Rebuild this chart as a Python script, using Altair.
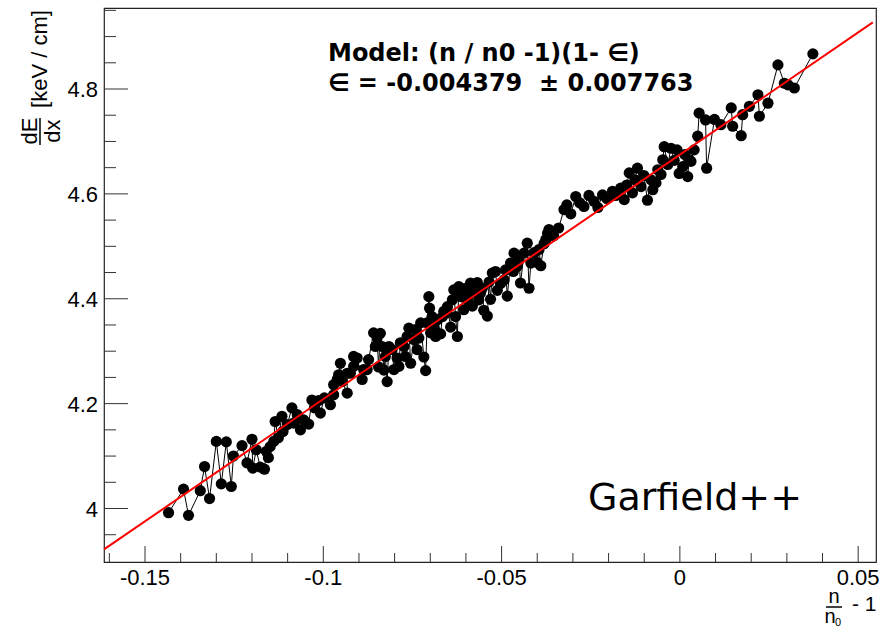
import altair as alt
import pandas as pd

# ---------------- data ----------------
x_vals = [
    -0.1434, -0.1392, -0.1378, -0.1345, -0.1333, -0.1319, -0.1300, -0.1286, -0.1272, -0.1258,
    -0.1252, -0.1228, -0.1214, -0.1200, -0.1198, -0.1177, -0.1165, -0.1160, -0.1149, -0.1139,
    -0.1135, -0.1116, -0.1113, -0.1088, -0.1083, -0.1055, -0.1041, -0.1032, -0.1013, -0.1008,
    -0.0980, -0.0971, -0.0961, -0.0952, -0.0947, -0.0933, -0.0924, -0.0915, -0.0905, -0.0891,
    -0.0877, -0.0859, -0.0854, -0.0845, -0.0840, -0.0830, -0.0821, -0.0816, -0.0802, -0.0793,
    -0.0784, -0.0770, -0.0760, -0.0755, -0.0746, -0.0737, -0.0727, -0.0718, -0.0713, -0.0704,
    -0.0702, -0.0699, -0.0690, -0.0680, -0.0671, -0.0662, -0.0652, -0.0643, -0.0634, -0.0629,
    -0.0624, -0.0620, -0.0606, -0.0596, -0.0587, -0.0582, -0.0568, -0.0559, -0.0550, -0.0540,
    -0.0535, -0.0531, -0.0517, -0.0512, -0.0503, -0.0484, -0.0475, -0.0465, -0.0456, -0.0447,
    -0.0428, -0.0423, -0.0409, -0.0400, -0.0390, -0.0381, -0.0371, -0.0367, -0.0354, -0.0340,
    -0.0325, -0.0292, -0.0269, -0.0241, -0.0217, -0.0189, -0.0166, -0.0156, -0.0142, -0.0133,
    -0.0119, -0.0109, -0.0091, -0.0081, -0.0067, -0.0062, -0.0048, -0.0044, -0.0025, -0.0016,
    -0.0002, 0.0008, 0.0022, 0.0026, 0.0031, 0.0050, 0.0054, 0.0072, 0.0075, 0.0097,
    0.0115, 0.0144, 0.0148, 0.0172, 0.0176, 0.0195, 0.0219, 0.0223, 0.0247, 0.0275,
    0.0293, 0.0303, 0.0321, 0.0373,
]
y_vals = [
    3.992, 4.037, 3.987, 4.034, 4.080, 4.019, 4.128, 4.047, 4.127, 4.042,
    4.100, 4.120, 4.087, 4.132, 4.077, 4.079, 4.075, 4.109, 4.118, 4.128,
    4.166, 4.176, 4.147, 4.192, 4.163, 4.169, 4.161, 4.207, 4.206, 4.182,
    4.198, 4.217, 4.246, 4.277, 4.242, 4.220, 4.258, 4.271, 4.287, 4.246,
    4.265, 4.335, 4.309, 4.270, 4.334, 4.264, 4.242, 4.309, 4.265, 4.287,
    4.316, 4.290, 4.344, 4.277, 4.322, 4.303, 4.354, 4.289, 4.263, 4.404,
    4.382, 4.335, 4.347, 4.360, 4.333, 4.376, 4.385, 4.346, 4.417, 4.366,
    4.328, 4.423, 4.379, 4.398, 4.430, 4.386, 4.431, 4.411, 4.378, 4.367,
    4.432, 4.399, 4.452, 4.416, 4.429, 4.405, 4.468, 4.487, 4.462, 4.430,
    4.506, 4.420, 4.488, 4.469, 4.463, 4.505, 4.525, 4.532, 4.520, 4.535,
    4.570, 4.595, 4.576, 4.586, 4.598, 4.605, 4.611, 4.589, 4.640, 4.602,
    4.649, 4.614, 4.588, 4.627, 4.621, 4.646, 4.665, 4.690, 4.687, 4.664,
    4.639, 4.652, 4.633, 4.665, 4.662, 4.710, 4.754, 4.741, 4.649, 4.742,
    4.732, 4.764, 4.729, 4.711, 4.751, 4.767, 4.789, 4.748, 4.773, 4.846,
    4.811, 4.808, 4.802, 4.867,
]
# further points read from the denser parts of the cloud
x_more = [
    -0.1188, -0.1154, -0.1126, -0.1101, -0.1073, -0.1064, -0.1025, -0.0997,
    -0.0971, -0.0957, -0.0933, -0.0915, -0.0887, -0.0873, -0.0849, -0.0835,
    -0.0826, -0.0807, -0.0788, -0.0774, -0.0765, -0.0741, -0.0732, -0.0709,
    -0.0695, -0.0685, -0.0666, -0.0654, -0.0638, -0.0615, -0.0601, -0.0592,
    -0.0578, -0.0564, -0.0554, -0.0526, -0.0493, -0.0489, -0.0467, -0.0451,
    -0.0437, -0.0418, -0.0395, -0.0376,
    -0.0317, -0.0306, -0.0281, -0.0255, -0.0230, -0.0205, -0.0180, -0.0149,
    -0.0126, -0.0101, -0.0076, -0.0053, -0.0034, -0.0008, 0.0014, 0.0040,
]
y_more = [
    4.112, 4.097, 4.135, 4.160, 4.179, 4.150, 4.192, 4.211,
    4.236, 4.255, 4.258, 4.290, 4.265, 4.284, 4.325, 4.309,
    4.290, 4.303, 4.271, 4.309, 4.328, 4.341, 4.325, 4.354,
    4.366, 4.328, 4.366, 4.373, 4.398, 4.404, 4.420, 4.411,
    4.414, 4.398, 4.420, 4.449, 4.436, 4.455, 4.452, 4.474,
    4.487, 4.468, 4.494, 4.513,
    4.579, 4.562, 4.583, 4.597, 4.574, 4.591, 4.597, 4.617,
    4.627, 4.635, 4.608, 4.637, 4.656, 4.684, 4.675, 4.684,
]
fit_x = [-0.1615, 0.0541]
fit_y = [3.922, 4.927]

x_major = [-0.15, -0.1, -0.05, 0.0, 0.05]
x_major_labels = ["-0.15", "-0.1", "-0.05", "0", "0.05"]
x_minor = [-0.16, -0.14, -0.13, -0.12, -0.11, -0.09, -0.08, -0.07, -0.06,
           -0.04, -0.03, -0.02, -0.01, 0.01, 0.02, 0.03, 0.04]
y_major = [4.0, 4.2, 4.4, 4.6, 4.8]
y_major_labels = ["4", "4.2", "4.4", "4.6", "4.8"]
y_minor = [3.95, 4.05, 4.1, 4.15, 4.25, 4.3, 4.35, 4.45, 4.5, 4.55,
           4.65, 4.7, 4.75, 4.85, 4.9, 4.95]

annotation_lines = ["Model: (n / n0 -1)(1- \u2208)", "\u2208 = -0.004379\u00a0 \u00b1 0.007763"]
watermark = ["Garfield++"]
ytitle_top = ["dE"]
ytitle_bottom = ["dx"]
ytitle_unit = ["[keV / cm]"]
xtitle_num = ["n"]
xtitle_den = ["n"]
xtitle_sub = ["0"]
xtitle_tail = ["- 1"]

# ---------------- layout ----------------
W, H = 772, 554
FONT = "Liberation Sans"
xs = alt.Scale(domain=[-0.1615, 0.055], nice=False, zero=False)
ys = alt.Scale(domain=[3.898, 4.9545], nice=False, zero=False)

df = pd.DataFrame({"x": x_vals + x_more, "y": y_vals + y_more})
df = df.sort_values("x", kind="stable").reset_index(drop=True)
df["i"] = range(len(df))
fit_df = pd.DataFrame({"x": fit_x, "y": fit_y})

X = lambda f: alt.X(f, scale=xs, axis=None)
Y = lambda f: alt.Y(f, scale=ys, axis=None)

line = alt.Chart(df).mark_line(color="black", strokeWidth=1).encode(
    x=X("x:Q"), y=Y("y:Q"), order="i:Q")
pts = alt.Chart(df).mark_circle(color="black", opacity=1, size=125).encode(
    x=X("x:Q"), y=Y("y:Q"))
fit = alt.Chart(fit_df).mark_line(color="#ff0000", strokeWidth=2).encode(
    x=X("x:Q"), y=Y("y:Q"))

TICK = "#333333"
xmaj = alt.Chart(pd.DataFrame({"v": x_major})).mark_rule(color=TICK, strokeWidth=1).encode(
    x=X("v:Q"), y=alt.value(H), y2=alt.value(H - 16))
xmin = alt.Chart(pd.DataFrame({"v": x_minor})).mark_rule(color=TICK, strokeWidth=1).encode(
    x=X("v:Q"), y=alt.value(H), y2=alt.value(H - 9))
ymaj = alt.Chart(pd.DataFrame({"v": y_major})).mark_rule(color=TICK, strokeWidth=1).encode(
    y=Y("v:Q"), x=alt.value(0), x2=alt.value(24))
ymin = alt.Chart(pd.DataFrame({"v": y_minor})).mark_rule(color=TICK, strokeWidth=1).encode(
    y=Y("v:Q"), x=alt.value(0), x2=alt.value(12))

xlab = alt.Chart(pd.DataFrame({"v": x_major, "t": x_major_labels})).mark_text(
    font=FONT, fontSize=22, color="black", align="center", baseline="alphabetic").encode(
    x=X("v:Q"), y=alt.value(H + 23), text="t:N")
ylab = alt.Chart(pd.DataFrame({"v": y_major, "t": y_major_labels})).mark_text(
    font=FONT, fontSize=22, color="black", align="right", baseline="alphabetic", dy=8).encode(
    y=Y("v:Q"), x=alt.value(-6), text="t:N")


def label(texts, x, y, size, font=FONT, weight="normal", align="left",
          baseline="alphabetic", angle=0):
    kw = dict(font=font, fontSize=size, fontWeight=weight, align=align,
              baseline=baseline, color="black")
    if angle:
        kw["angle"] = angle
    return alt.Chart(pd.DataFrame({"t": texts})).mark_text(**kw).encode(
        text="t:N", x=alt.value(x), y=alt.value(y))


ann1 = label(annotation_lines[:1], 224, 53, 24, font="DejaVu Sans", weight="bold")
ann2 = label(annotation_lines[1:], 224, 83, 24, font="DejaVu Sans", weight="bold")
garf = label(watermark, 484, 502, 38, font="DejaVu Sans")

yt1 = label(ytitle_top, -67, 123, 22, align="center", angle=270)
yt2 = label(ytitle_bottom, -44, 123, 22, align="center", angle=270)
yt3 = label(ytitle_unit, -57, 51, 22, align="center", angle=270)
ybar = alt.Chart().mark_rule(color="black", strokeWidth=1.5).encode(
    x=alt.value(-64), y=alt.value(110), y2=alt.value(137))

xt1 = label(xtitle_num, 730, 595, 20, align="center")
xbar = alt.Chart().mark_rule(color="black", strokeWidth=1.5).encode(
    x=alt.value(722), x2=alt.value(738), y=alt.value(599))
xt2 = label(xtitle_den, 726, 615, 20, align="center")
xt3 = label(xtitle_sub, 731, 618, 11)
xt4 = label(xtitle_tail, 748, 603, 21)

chart = alt.layer(
    line, pts, fit, xmaj, xmin, ymaj, ymin, xlab, ylab,
    ann1, ann2, garf, yt1, yt2, yt3, ybar, xt1, xbar, xt2, xt3, xt4,
).properties(
    width=W, height=H,
    padding={"left": 104, "top": 8, "right": 11, "bottom": 65},
    autosize=alt.AutoSizeParams(type="none"),
    background="white",
).configure_view(stroke="#222222", strokeWidth=1.2)

chart.save("out.html", embed_options={"renderer": "svg", "actions": False})
